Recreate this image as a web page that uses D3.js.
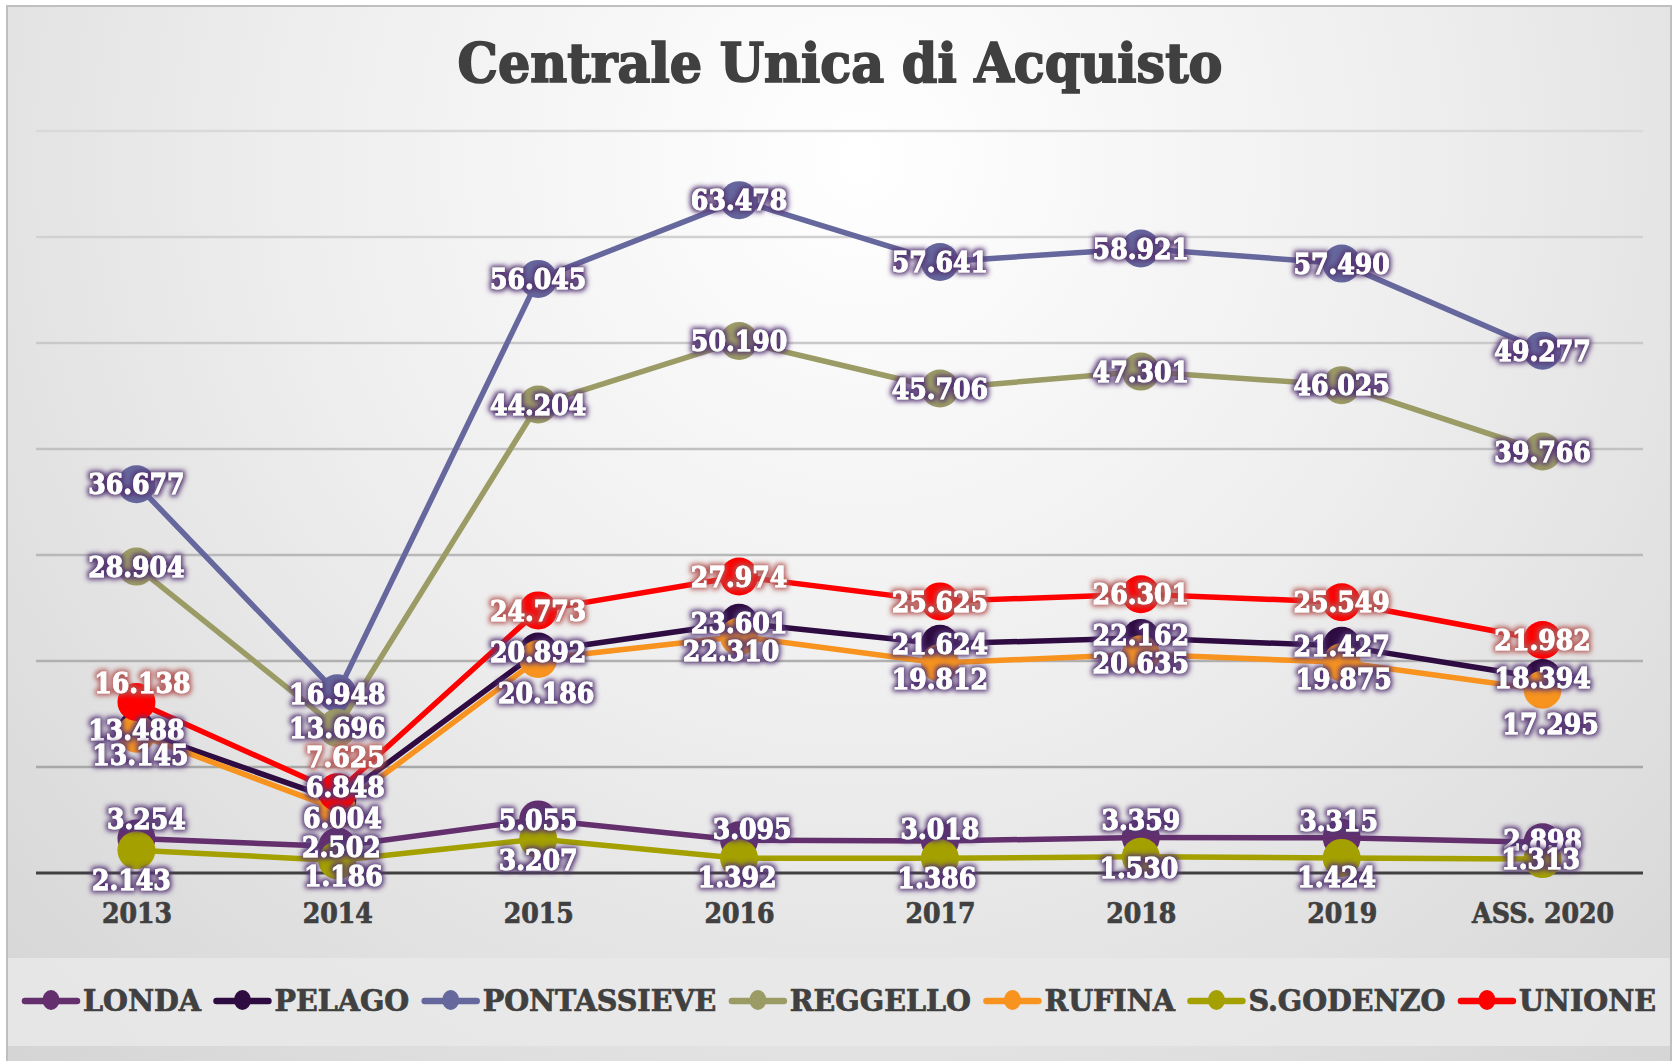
<!DOCTYPE html>
<html>
<head>
<meta charset="utf-8">
<script src="https://cdn.jsdelivr.net/npm/d3@7"></script>
<style>
  html, body { margin: 0; padding: 0; background: #ffffff; }
  svg { display: block; }
  .slab { font-family: "DejaVu Serif Condensed", "DejaVu Serif", serif; font-stretch: condensed; font-weight: bold; }
</style>
</head>
<body>
<svg id="chart" width="1672" height="1061"></svg>
<script>
// ---------------- DATA ----------------
const categories = ["2013", "2014", "2015", "2016", "2017", "2018", "2019", "ASS. 2020"];
const seriesNames = ["LONDA", "PELAGO", "PONTASSIEVE", "REGGELLO", "RUFINA", "S.GODENZO", "UNIONE"];
const londa       = [3254, 2502, 5055, 3095, 3018, 3359, 3315, 2898];
const pelago      = [13488, 6848, 20892, 23601, 21624, 22162, 21427, 18394];
const pontassieve = [36677, 16948, 56045, 63478, 57641, 58921, 57490, 49277];
const reggello    = [28904, 13696, 44204, 50190, 45706, 47301, 46025, 39766];
const rufina      = [13145, 6004, 20186, 22310, 19812, 20635, 19875, 17295];
const sgodenzo    = [2143, 1186, 3207, 1392, 1386, 1530, 1424, 1313];
const unione      = [16138, 7625, 24773, 27974, 25625, 26301, 25549, 21982];
const yTicks      = [0, 10000, 20000, 30000, 40000, 50000, 60000, 70000];
const titleText   = "Centrale Unica di Acquisto";

// ---------------- STYLE / LAYOUT ----------------
const W = 1672, H = 1061;
const colors = {
  "LONDA": "#632f6d", "PELAGO": "#2e0c42", "PONTASSIEVE": "#65679d", "REGGELLO": "#9b9b65",
  "RUFINA": "#f7931e", "S.GODENZO": "#a3a000", "UNIONE": "#ff0000"
};
// manual label nudges (px) as in the reference layout
const labelShift = {
  "LONDA":       { dx: [10, 4, 0, 13, 0, 0, -3, 0], dy: [-20, 0, 0, -11, -12, -18, -17, -2] },
  "PELAGO":      { dx: [0, 8, 0, 0, 0, 0, 0, 0],    dy: [0, -14, 0, 0, 0, -3, 0, 0] },
  "PONTASSIEVE": { dx: [0, 0, 0, 0, 0, 0, 0, 0],    dy: [0, 0, 0, 0, 0, 0, 0, 0] },
  "REGGELLO":    { dx: [0, 0, 0, 0, 0, 0, 0, 0],    dy: [0, 0, 0, 0, 0, 0, 0, 0] },
  "RUFINA":      { dx: [4, 5, 8, -8, 0, 0, 2, 8],   dy: [21, 8, 34, 14, 16, 9, 16, 34] },
  "S.GODENZO":   { dx: [-5, 6, 0, -2, -3, -2, -5, -2], dy: [30, 15, 21, 19, 19, 11, 19, 0] },
  "UNIONE":      { dx: [6, 8, 0, 0, 0, 0, 0, 0],    dy: [-19, -35, 0, 0, 0, 0, 0, 0] }
};

const seriesValues = [londa, pelago, pontassieve, reggello, rufina, sgodenzo, unione];
const series = seriesNames.map((n, i) => ({ name: n, values: seriesValues[i] }));

const itFmt = d3.formatLocale({ decimal: ",", thousands: ".", grouping: [3], currency: ["€", ""] }).format(",d");

const svg = d3.select("#chart");
const defs = svg.append("defs");

// background gradient
const bg = defs.append("radialGradient").attr("id", "bgGrad")
  .attr("gradientUnits", "userSpaceOnUse").attr("cx", 860).attr("cy", 160).attr("r", 1250);
bg.append("stop").attr("offset", "0").attr("stop-color", "#ffffff");
bg.append("stop").attr("offset", "0.45").attr("stop-color", "#eeeeee");
bg.append("stop").attr("offset", "1").attr("stop-color", "#d4d4d4");

function glow(id, color, op) {
  const f = defs.append("filter").attr("id", id)
    .attr("x", "-30%").attr("y", "-60%").attr("width", "160%").attr("height", "220%");
  f.append("feMorphology").attr("in", "SourceAlpha").attr("operator", "dilate").attr("radius", 2).attr("result", "d");
  f.append("feGaussianBlur").attr("in", "d").attr("stdDeviation", 2.6).attr("result", "b");
  f.append("feFlood").attr("flood-color", color).attr("flood-opacity", op).attr("result", "c");
  f.append("feComposite").attr("in", "c").attr("in2", "b").attr("operator", "in").attr("result", "g");
  const m = f.append("feMerge");
  m.append("feMergeNode").attr("in", "g");
  m.append("feMergeNode").attr("in", "SourceGraphic");
}
glow("glowP", "#553574", 1);
glow("glowR", "#b35553", 0.95);

// background
svg.append("rect").attr("x", 0).attr("y", 0).attr("width", W).attr("height", H).attr("fill", "#ffffff");
svg.append("rect").attr("x", 7).attr("y", 6).attr("width", W - 8).attr("height", H)
  .attr("fill", "url(#bgGrad)").attr("stroke", "#bfbfbf").attr("stroke-width", 2);
// legend band
svg.append("rect").attr("x", 8).attr("y", 958).attr("width", W - 10).attr("height", 88)
  .attr("fill", "#e9e9e9").attr("opacity", 0.85);

// scales
const x = d3.scalePoint().domain(categories).range([36, 1643]).padding(0.5);
const y = d3.scaleLinear().domain([0, 70000]).range([873, 131]);

// gridlines
const gridCol = d3.scaleLinear().domain([70000, 10000]).range(["#d9d9d9", "#a8a8a8"]);
svg.append("g").selectAll("line").data(yTicks.filter(t => t > 0)).join("line")
  .attr("x1", 36).attr("x2", 1643).attr("y1", d => y(d)).attr("y2", d => y(d))
  .attr("stroke", d => gridCol(d)).attr("stroke-width", 2.5);

// axis line + labels
const xAxis = d3.axisBottom(x).tickSize(0).tickPadding(0);
const axG = svg.append("g").attr("transform", `translate(0,${y(0)})`).call(xAxis);
axG.select(".domain").attr("d", `M36,0H1643`).attr("stroke", "#404040").attr("stroke-width", 3);
axG.selectAll(".tick text").attr("class", "slab").attr("font-size", 28).attr("fill", "#404040")
  .attr("stroke", "#404040").attr("stroke-width", 0.7)
  .attr("y", 50).attr("dy", 0);

// series
const line = d3.line().x((d, i) => x(categories[i])).y(d => y(d));
const sg = svg.append("g");
series.forEach(s => {
  const g = sg.append("g");
  g.append("path").attr("d", line(s.values)).attr("fill", "none")
    .attr("stroke", colors[s.name]).attr("stroke-width", 5.5).attr("stroke-linejoin", "round");
  g.selectAll("circle").data(s.values).join("circle")
    .attr("cx", (d, i) => x(categories[i])).attr("cy", d => y(d)).attr("r", 19)
    .attr("fill", colors[s.name]);
});

// data labels
const lg = svg.append("g");
const fs = 28;
series.forEach(s => {
  lg.append("g").attr("filter", s.name === "UNIONE" ? "url(#glowR)" : "url(#glowP)")
    .selectAll("text").data(s.values).join("text")
    .attr("class", "slab").attr("font-size", fs).attr("fill", "#ffffff").attr("text-anchor", "middle")
    .attr("stroke", "#ffffff").attr("stroke-width", 0.8)
    .attr("x", (d, i) => x(categories[i]) + labelShift[s.name].dx[i])
    .attr("y", (d, i) => y(d) + labelShift[s.name].dy[i] + fs * 0.364)
    .text(d => itFmt(d));
});

// title
svg.append("text").attr("class", "slab").attr("x", 840).attr("y", 82)
  .attr("text-anchor", "middle").attr("font-size", 54).attr("fill", "#404040")
  .attr("stroke", "#404040").attr("stroke-width", 1.6)
  .attr("textLength", 765).attr("lengthAdjust", "spacingAndGlyphs")
  .text(titleText);

// legend
const legG = svg.append("g");
const items = seriesNames.map(n => {
  const t = legG.append("text").attr("class", "slab").attr("font-size", 29).attr("fill", "#404040")
    .attr("stroke", "#404040").attr("stroke-width", 0.7)
    .attr("y", 1011).text(n);
  return { name: n, node: t, w: t.node().getComputedTextLength() };
});
const markW = 58, markGap = 3, itemGap = 12.5;
const targetText = 1634 - items.length * (markW + markGap) - (items.length - 1) * itemGap;
const k = targetText / d3.sum(items, d => d.w);
let cx = 22;
items.forEach(it => {
  const c = colors[it.name];
  legG.append("line").attr("x1", cx + 3).attr("x2", cx + markW - 3).attr("y1", 1001).attr("y2", 1001)
    .attr("stroke", c).attr("stroke-width", 6.5).attr("stroke-linecap", "round");
  legG.append("ellipse").attr("cx", cx + markW / 2).attr("cy", 1000).attr("rx", 8.5).attr("ry", 10).attr("fill", c);
  const tw = it.w * k;
  it.node.attr("x", cx + markW + markGap).attr("textLength", tw).attr("lengthAdjust", "spacingAndGlyphs");
  cx += markW + markGap + tw + itemGap;
});
</script>
</body>
</html>
